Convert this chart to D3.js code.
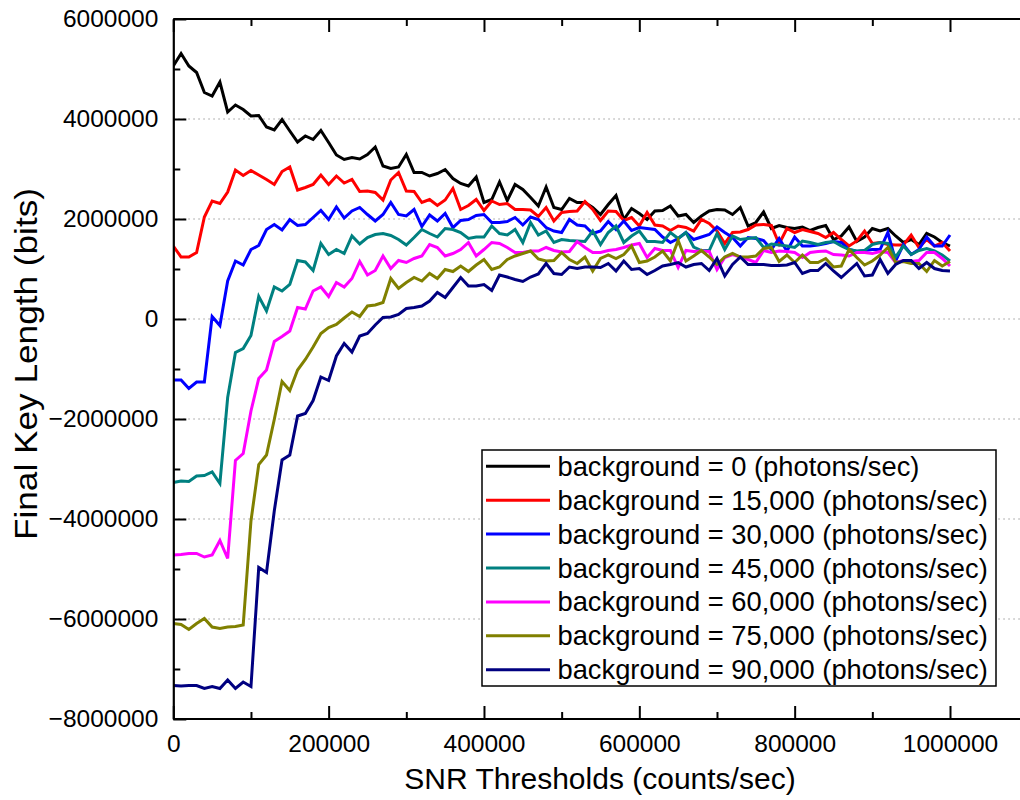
<!DOCTYPE html>
<html>
<head>
<meta charset="utf-8">
<script src="https://cdn.jsdelivr.net/npm/d3@7"></script>
<style>
  html, body { margin: 0; padding: 0; background: #fff; }
  svg { display: block; font-family: "Liberation Sans", Arial, sans-serif; }
</style>
</head>
<body>
<svg id="chart" width="1020" height="800"></svg>
<script>
// ---------------- DATA ----------------
const thresholds = [0,10000,20000,30000,40000,50000,60000,70000,80000,90000,
  100000,110000,120000,130000,140000,150000,160000,170000,180000,190000,
  200000,210000,220000,230000,240000,250000,260000,270000,280000,290000,
  300000,310000,320000,330000,340000,350000,360000,370000,380000,390000,
  400000,410000,420000,430000,440000,450000,460000,470000,480000,490000,
  500000,510000,520000,530000,540000,550000,560000,570000,580000,590000,
  600000,610000,620000,630000,640000,650000,660000,670000,680000,690000,
  700000,710000,720000,730000,740000,750000,760000,770000,780000,790000,
  800000,810000,820000,830000,840000,850000,860000,870000,880000,890000,
  900000,910000,920000,930000,940000,950000,960000,970000,980000,990000,
  1000000];

const bg0 = [5060000,5310000,5060000,4930000,4530000,4460000,4740000,4140000,4280000,4190000,
  4060000,4070000,3840000,3780000,3990000,3760000,3540000,3660000,3590000,3770000,
  3530000,3280000,3190000,3230000,3200000,3290000,3440000,3060000,3010000,3040000,
  3290000,2930000,2930000,2860000,2910000,2990000,2810000,2710000,2660000,2840000,
  2330000,2390000,2740000,2370000,2690000,2590000,2430000,2260000,2640000,2230000,
  2190000,2410000,2330000,2330000,2230000,2090000,2290000,2470000,1990000,2210000,
  2110000,1990000,2160000,2170000,2260000,2060000,2090000,1930000,2060000,2160000,
  2190000,2180000,2090000,2230000,1860000,1930000,2140000,1810000,1870000,1830000,
  1810000,1840000,1770000,1830000,1870000,1590000,1660000,1840000,1550000,1640000,
  1810000,1760000,1810000,1660000,1530000,1590000,1490000,1710000,1640000,1530000,
  1460000];

const bg15000 = [1460000,1240000,1240000,1330000,2040000,2360000,2310000,2540000,2980000,2870000,
  2970000,2880000,2790000,2690000,2950000,3040000,2580000,2630000,2690000,2880000,
  2690000,2860000,2720000,2790000,2550000,2560000,2530000,2380000,2780000,2930000,
  2560000,2550000,2330000,2390000,2270000,2380000,2610000,2190000,2270000,2390000,
  2170000,2360000,2290000,2310000,2190000,2190000,2180000,2050000,2230000,1960000,
  2130000,2150000,2160000,2350000,2190000,1970000,2160000,2150000,1970000,2030000,
  1860000,2130000,1880000,1860000,1770000,1860000,1830000,1760000,1990000,1910000,
  1760000,1510000,1730000,1740000,1790000,1880000,1890000,1870000,1500000,1810000,
  1730000,1790000,1750000,1710000,1630000,1730000,1590000,1460000,1560000,1760000,
  1510000,1530000,1490000,1480000,1480000,1680000,1430000,1590000,1460000,1530000,
  1360000];

const bg30000 = [-1220000,-1220000,-1390000,-1260000,-1260000,50000,-130000,760000,1160000,1080000,
  1390000,1470000,1790000,1890000,1780000,1990000,1870000,1890000,2030000,2170000,
  1990000,2240000,2020000,2160000,2230000,2090000,1960000,2090000,2330000,2090000,
  2060000,2190000,1850000,2080000,1960000,2110000,1830000,1970000,1990000,2070000,
  2090000,1930000,1930000,1950000,2030000,1880000,2040000,1990000,1830000,1760000,
  1730000,1990000,1880000,1860000,1710000,1760000,1950000,1790000,1960000,1770000,
  1830000,1810000,1790000,1640000,1530000,1610000,1730000,1590000,1640000,1690000,
  1840000,1730000,1630000,1460000,1630000,1610000,1570000,1390000,1610000,1360000,
  1640000,1460000,1460000,1480000,1510000,1550000,1530000,1390000,1350000,1370000,
  1390000,1390000,1730000,1160000,1490000,1290000,1390000,1640000,1460000,1460000,
  1680000];

const bg45000 = [-3270000,-3240000,-3250000,-3140000,-3130000,-3060000,-3290000,-1570000,-670000,-590000,
  -330000,450000,160000,640000,560000,690000,1170000,1140000,970000,1510000,
  1290000,1390000,1310000,1660000,1500000,1630000,1690000,1710000,1670000,1590000,
  1480000,1630000,1790000,1710000,1640000,1810000,1790000,1730000,1610000,1640000,
  1640000,1860000,1710000,1680000,1790000,1530000,1930000,1680000,1760000,1530000,
  1590000,1570000,1560000,1550000,1760000,1490000,1730000,1860000,1530000,1660000,
  1760000,1550000,1550000,1530000,1730000,1610000,1730000,1440000,1370000,1370000,
  1710000,1390000,1660000,1590000,1610000,1630000,1430000,1500000,1480000,1460000,
  1430000,1560000,1530000,1490000,1530000,1550000,1460000,1390000,1360000,1370000,
  1490000,1530000,1510000,1240000,1460000,1290000,1370000,1410000,1360000,1280000,
  1160000];

const bg60000 = [-4720000,-4710000,-4690000,-4690000,-4760000,-4720000,-4430000,-4790000,-2830000,-2690000,
  -1840000,-1190000,-1020000,-450000,-350000,-240000,230000,200000,560000,640000,
  450000,730000,640000,810000,1150000,880000,970000,1260000,1010000,1170000,
  1130000,1210000,1260000,1490000,1430000,1260000,1310000,1390000,1530000,1260000,
  1390000,1530000,1510000,1430000,1330000,1330000,1360000,1360000,1430000,1370000,
  1340000,1350000,1550000,1430000,1330000,1330000,1370000,1390000,1430000,1480000,
  1510000,1230000,1410000,1370000,1370000,1030000,1370000,1350000,1360000,1350000,
  990000,1230000,1290000,1240000,1190000,1130000,1370000,1330000,1360000,1350000,
  1330000,1230000,1330000,1350000,1360000,1290000,1280000,1260000,1330000,1330000,
  1310000,1350000,1330000,1130000,1170000,1150000,1170000,1330000,1330000,1210000,
  1060000];

const bg75000 = [-6090000,-6110000,-6210000,-6090000,-5990000,-6160000,-6190000,-6160000,-6150000,-6120000,
  -4040000,-2910000,-2720000,-2010000,-1250000,-1430000,-1020000,-810000,-560000,-290000,
  -170000,-110000,20000,140000,50000,260000,280000,330000,810000,610000,
  730000,830000,760000,910000,810000,990000,950000,1060000,950000,1080000,
  1190000,990000,1040000,1190000,1260000,1310000,1360000,1200000,1160000,1170000,
  1330000,1190000,1110000,1240000,960000,1210000,1280000,1210000,1290000,1460000,
  1130000,1160000,1240000,1360000,1160000,1570000,1160000,1260000,1370000,1240000,
  1090000,1240000,1310000,1240000,1240000,1260000,1410000,1430000,1150000,1280000,
  1130000,1280000,1130000,1130000,1210000,1040000,1060000,1390000,1230000,1080000,
  1160000,1280000,1430000,1130000,1150000,1110000,1110000,950000,1170000,1060000,
  1150000];

const bg90000 = [-7330000,-7340000,-7330000,-7330000,-7390000,-7350000,-7390000,-7220000,-7390000,-7260000,
  -7350000,-4970000,-5070000,-3840000,-2820000,-2720000,-1940000,-1890000,-1630000,-1160000,
  -1230000,-740000,-490000,-660000,-340000,-290000,-120000,30000,40000,90000,
  210000,230000,260000,360000,530000,430000,630000,830000,660000,660000,
  690000,570000,880000,840000,790000,750000,840000,900000,1110000,910000,
  890000,1040000,1010000,1040000,1040000,1030000,1110000,960000,1160000,990000,
  1010000,890000,970000,1060000,1090000,1130000,1040000,1090000,1110000,970000,
  1210000,860000,1090000,1240000,1090000,1090000,1090000,1070000,1070000,1080000,
  1130000,910000,970000,970000,1110000,960000,830000,970000,1110000,860000,
  880000,1190000,910000,1090000,1170000,1170000,1010000,1130000,1010000,970000,
  960000];

const seriesNames = [
  "background = 0 (photons/sec)",
  "background = 15,000 (photons/sec)",
  "background = 30,000 (photons/sec)",
  "background = 45,000 (photons/sec)",
  "background = 60,000 (photons/sec)",
  "background = 75,000 (photons/sec)",
  "background = 90,000 (photons/sec)"
];
const seriesColors = ["#000000", "#ff0000", "#0000ff", "#008080", "#ff00ff", "#808000", "#000080"];
const seriesValues = [bg0, bg15000, bg30000, bg45000, bg60000, bg75000, bg90000];

const xMajorTicks = [0, 200000, 400000, 600000, 800000, 1000000];
const xMinorTicks = [100000, 300000, 500000, 700000, 900000];
const yMajorTicks = [-8000000, -6000000, -4000000, -2000000, 0, 2000000, 4000000, 6000000];
const yMinorTicks = [-7000000, -5000000, -3000000, -1000000, 1000000, 3000000, 5000000];
const yGridTicks = [-6000000, -4000000, -2000000, 0, 2000000, 4000000];

const xTitle = "SNR Thresholds (counts/sec)";
const yTitle = "Final Key Length (bits)";

// ---------------- LAYOUT ----------------
(function () {
const svg = d3.select("#chart");
const pLeft = 173.3, pTop = 19, pBottom = 719;
const pxPerUnit = 0.7767 / 1000;
const xMax = 1100000;
const pRight = 1020;

const x = d3.scaleLinear().domain([0, xMax]).range([pLeft, pLeft + xMax * pxPerUnit]);
const y = d3.scaleLinear().domain([-8000000, 6000000]).range([pBottom, pTop]);

svg.append("defs").append("clipPath").attr("id", "clip")
  .append("rect").attr("x", pLeft).attr("y", pTop - 2)
  .attr("width", pRight - pLeft).attr("height", pBottom - pTop + 4);

// grid lines
svg.append("g").selectAll("line").data(yGridTicks).join("line")
  .attr("x1", pLeft).attr("x2", pRight)
  .attr("y1", d => y(d)).attr("y2", d => y(d))
  .attr("stroke", "#bdbdbd").attr("stroke-width", 1.3)
  .attr("stroke-dasharray", "1.5,3.5");

// series lines
const line = d3.line().x((d, i) => x(thresholds[i])).y(d => y(d));
const gLines = svg.append("g").attr("clip-path", "url(#clip)");
seriesValues.forEach((vals, k) => {
  gLines.append("path").datum(vals)
    .attr("fill", "none")
    .attr("stroke", seriesColors[k])
    .attr("stroke-width", 3)
    .attr("stroke-linejoin", "miter")
    .attr("d", line);
});

// axes
const fmt = d3.format("d");
function styleAxis(g) {
  g.select(".domain").attr("stroke", "#000").attr("stroke-width", 2.2);
  g.selectAll(".tick line").attr("stroke", "#000").attr("stroke-width", 2);
  g.selectAll(".tick text").attr("fill", "#000")
    .style("font-family", '"Liberation Sans", Arial, sans-serif')
    .style("font-size", "24.5px");
}

const gxB = svg.append("g").attr("transform", `translate(0,${pBottom})`)
  .call(d3.axisBottom(x).tickValues(xMajorTicks).tickFormat(fmt)
    .tickSizeInner(-13).tickSizeOuter(0).tickPadding(16));
styleAxis(gxB);
gxB.select(".domain").attr("d", `M${pLeft},0H${pRight + 5}`);
const gxBm = svg.append("g").attr("transform", `translate(0,${pBottom})`)
  .call(d3.axisBottom(x).tickValues(xMinorTicks).tickFormat("")
    .tickSizeInner(-7).tickSizeOuter(0));
styleAxis(gxBm);
gxBm.select(".domain").remove();

const gxT = svg.append("g").attr("transform", `translate(0,${pTop})`)
  .call(d3.axisTop(x).tickValues(xMajorTicks).tickFormat("")
    .tickSizeInner(-13).tickSizeOuter(0));
styleAxis(gxT);
gxT.select(".domain").attr("d", `M${pLeft},0H${pRight + 5}`);
const gxTm = svg.append("g").attr("transform", `translate(0,${pTop})`)
  .call(d3.axisTop(x).tickValues(xMinorTicks).tickFormat("")
    .tickSizeInner(-7).tickSizeOuter(0));
styleAxis(gxTm);
gxTm.select(".domain").remove();

const gyL = svg.append("g").attr("transform", `translate(${pLeft},0)`)
  .call(d3.axisLeft(y).tickValues(yMajorTicks).tickFormat(fmt)
    .tickSizeInner(-13).tickSizeOuter(0).tickPadding(15));
styleAxis(gyL);
const gyLm = svg.append("g").attr("transform", `translate(${pLeft},0)`)
  .call(d3.axisLeft(y).tickValues(yMinorTicks).tickFormat("")
    .tickSizeInner(-7).tickSizeOuter(0));
styleAxis(gyLm);
gyLm.select(".domain").remove();

// axis titles
svg.append("text")
  .attr("x", 600).attr("y", 789)
  .attr("text-anchor", "middle")
  .style("font-size", "30px").attr("fill", "#000")
  .text(xTitle);

svg.append("text")
  .attr("transform", `translate(37,364) rotate(-90)`)
  .attr("text-anchor", "middle")
  .attr("textLength", 352).attr("lengthAdjust", "spacingAndGlyphs")
  .style("font-size", "31px").attr("fill", "#000")
  .text(yTitle);

// legend
const lg = svg.append("g");
const lgX = 482, lgY = 450, lgW = 514, lgH = 236;
const rowH = 33.9, row0 = 466.3;
lg.append("rect").attr("x", lgX).attr("y", lgY).attr("width", lgW).attr("height", lgH)
  .attr("fill", "#fff").attr("stroke", "#000").attr("stroke-width", 1.5);
seriesNames.forEach((name, k) => {
  const yy = row0 + k * rowH;
  lg.append("line").attr("x1", 486).attr("x2", 550).attr("y1", yy).attr("y2", yy)
    .attr("stroke", seriesColors[k]).attr("stroke-width", 3);
  lg.append("text").attr("x", 557.5).attr("y", yy).attr("dy", "0.35em")
    .style("font-size", "27.3px").attr("fill", "#000").text(name);
});
})();
</script>
</body>
</html>
